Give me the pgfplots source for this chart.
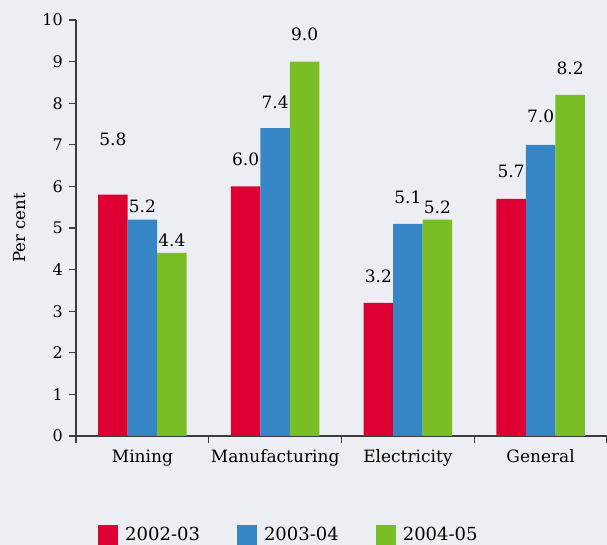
\documentclass[border=0pt]{standalone}
\usepackage{fontspec}
\setmainfont{DejaVu Serif}
\usepackage{pgfplots}
\usepackage{pgfplotstable}
\pgfplotsset{compat=1.18}
\definecolor{bgc}{RGB}{237,238,244}
\definecolor{cr}{RGB}{222,0,50}
\definecolor{cb}{RGB}{54,133,198}
\definecolor{cg}{RGB}{122,190,38}
\definecolor{axc}{RGB}{60,60,60}
\newcommand{\lf}{\fontsize{17}{20}\selectfont}
\newcommand{\tf}{\fontsize{16}{19}\selectfont}
\pgfplotstableread{
x y off
0 5.8 55
1 6.0 27
2 3.2 27
3 5.7 27
}\tabA
\pgfplotstableread{
x y off
0 5.2 13
1 7.4 26
2 5.1 27
3 7.0 28
}\tabB
\pgfplotstableread{
x y off
0 4.4 13
1 9.0 27
2 5.2 12
3 8.2 27
}\tabC
\begin{document}
\begin{tikzpicture}
\fill[bgc] (0,0) rectangle (607pt,545pt);
\begin{axis}[
  at={(76pt,109pt)}, anchor=south west,
  scale only axis, width=531pt, height=416pt,
  xmin=-0.5, xmax=3.5, ymin=0, ymax=10,
  ybar, bar width=0.222,
  axis x line*=bottom, axis y line*=left,
  axis line style={axc, line width=1.3pt},
  tick style={axc, line width=1.3pt},
  tick align=outside, major tick length=7pt,
  ytick={0,1,...,10},
  xtick={-0.5,0.5,1.5,2.5,3.5},
  x tick label as interval,
  xticklabels={Mining,Manufacturing,Electricity,General},
  xticklabel style={font=\lf, anchor=base, yshift=-20pt},
  yticklabel style={font=\tf, anchor=east, inner sep=0pt, xshift=-6pt},
  /pgf/number format/assume math mode=true,
  ylabel={Per cent},
  ylabel style={font=\fontsize{16.5}{19}\selectfont, at={(axis description cs:-0.107,0.5)}, anchor=center},
  clip=false,
  legend columns=3,
  legend style={at={(axis description cs:0.401,-0.238)}, anchor=center, draw=none, fill=none, font=\fontsize{18}{21}\selectfont,
    /tikz/every odd column/.append style={column sep=5pt},
    /tikz/every even column/.append style={column sep=35pt}},
  legend image code/.code={\fill[#1] (0pt,-10pt) rectangle (20pt,10pt);},
]
\pgfplotsset{
  lbl/.style={
    nodes near coords={\pgfmathprintnumber[fixed,fixed zerofill,precision=1,assume math mode=true]{\pgfplotspointmeta}},
    visualization depends on={\thisrow{off} \as \myoff},
    nodes near coords style={font=\lf, anchor=center, yshift=\myoff pt, text=black},
  }
}
\addplot[fill=cr, draw=none, bar shift=-0.222, lbl] table[x=x,y=y] {\tabA};
\addplot[fill=cb, draw=none, bar shift=0, lbl] table[x=x,y=y] {\tabB};
\addplot[fill=cg, draw=none, bar shift=0.222, lbl] table[x=x,y=y] {\tabC};
\legend{2002-03,2003-04,2004-05}
\end{axis}
\pgfresetboundingbox
\useasboundingbox (0,0) rectangle (607pt,545pt);
\end{tikzpicture}
\end{document}
